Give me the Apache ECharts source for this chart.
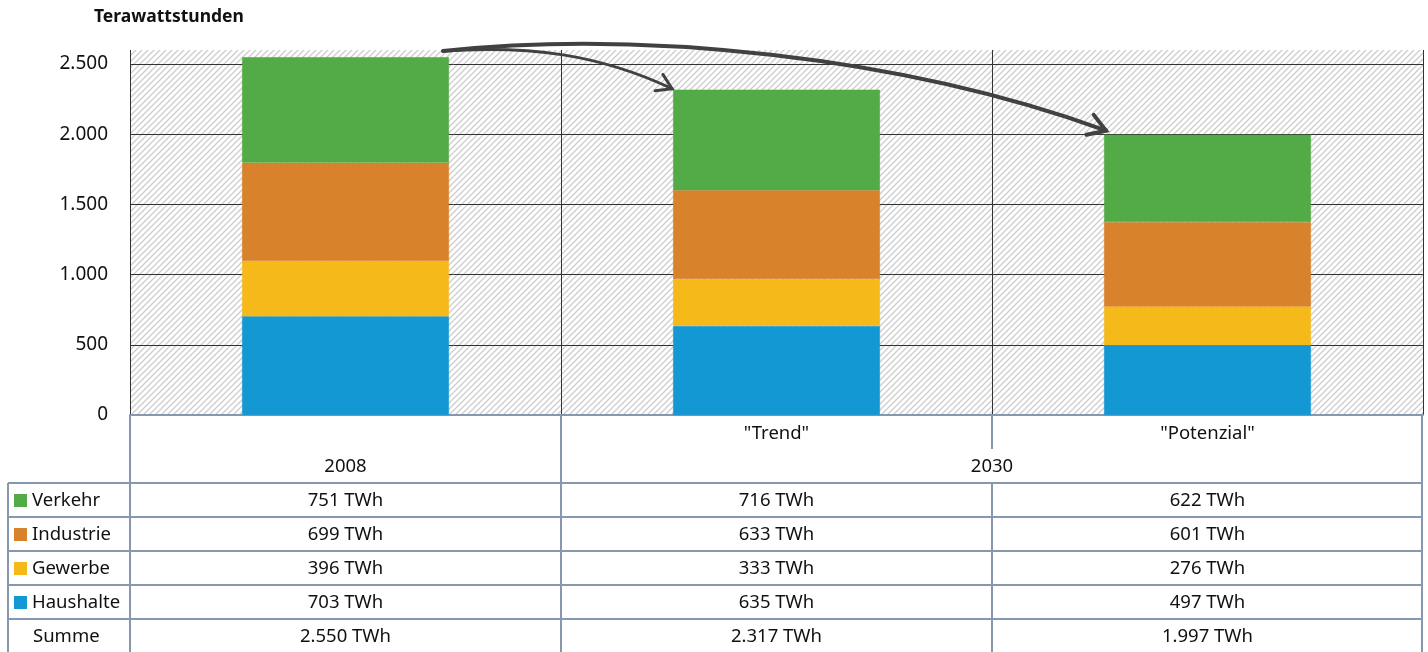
<!DOCTYPE html>
<html><head><meta charset="utf-8">
<script src="https://cdn.jsdelivr.net/npm/echarts@6/dist/echarts.min.js"></script>
<style>html,body{margin:0;padding:0;background:#fff}#c{width:1428px;height:652px}</style>
</head><body><div id="c"></div>
<script>
// ---- data ----
const categories = ['2008', '"Trend"', '"Potenzial"'];
const headerTop = ['', '"Trend"', '"Potenzial"'];
const yearLabels = ['2008', '2030'];
const yearSpans = [1, 2];
const haushalte = [703, 635, 497];
const gewerbe = [396, 333, 276];
const industrie = [699, 633, 601];
const verkehr = [751, 716, 622];
const summe = [2550, 2317, 1997];
const yTicks = [0, 500, 1000, 1500, 2000, 2500];
const yMax = 2600;
const tableRows = ['Verkehr', 'Industrie', 'Gewerbe', 'Haushalte', 'Summe'];

// ---- style ----
const FONT = '"Noto Sans", "Open Sans", sans-serif';
const C = { Verkehr: '#52ab46', Industrie: '#d8822b', Gewerbe: '#f6b91a', Haushalte: '#1398d4' };
const LINE = '#8598ae';
const TXT = '#111111';

function fmt(v) { return String(v).replace(/\B(?=(\d{3})+(?!\d))/g, '.'); }

// hatch pattern
const tile = document.createElement('canvas');
tile.width = 6; tile.height = 6;
const g = tile.getContext('2d');
g.fillStyle = '#ffffff'; g.fillRect(0, 0, 6, 6);
g.strokeStyle = '#cdcdcd'; g.lineWidth = 1.3;
g.beginPath();
g.moveTo(-1, 7); g.lineTo(7, -1);
g.moveTo(-4, 4); g.lineTo(4, -4);
g.moveTo(2, 10); g.lineTo(10, 2);
g.stroke();

const chart = echarts.init(document.getElementById('c'));
const valuesByName = { Verkehr: verkehr, Industrie: industrie, Gewerbe: gewerbe, Haushalte: haushalte, Summe: summe };
const stackOrder = ['Haushalte', 'Gewerbe', 'Industrie', 'Verkehr'];

chart.setOption({
  animation: false,
  textStyle: { fontFamily: FONT },
  title: { text: 'Terawattstunden', left: 89, top: 3,
    textStyle: { fontFamily: FONT, fontSize: 17.5, fontWeight: 'bold', color: TXT } },
  grid: { left: 130, right: 5, top: 50, bottom: 237, show: true, borderWidth: 0,
    backgroundColor: { image: tile, repeat: 'repeat' } },
  xAxis: { type: 'category', data: categories, boundaryGap: true,
    axisLabel: { show: false }, axisTick: { show: false },
    axisLine: { show: true, lineStyle: { color: LINE, width: 2 } },
    splitLine: { show: true, lineStyle: { color: '#333', width: 1 } } },
  yAxis: { type: 'value', min: 0, max: yMax, interval: 500,
    axisLine: { show: false }, axisTick: { show: false },
    axisLabel: { margin: 22, fontSize: 19, color: TXT, fontFamily: FONT, showMaxLabel: false,
      formatter: v => (yTicks.indexOf(v) >= 0 ? fmt(v) : '') },
    splitLine: { show: true, showMinLine: false, showMaxLine: false, lineStyle: { color: '#333', width: 1 } } },
  series: stackOrder.map(n => ({
    name: n, type: 'bar', stack: 'total', barWidth: '48%',
    data: valuesByName[n], itemStyle: { color: C[n], borderColor: C[n], borderWidth: 0.6 }, silent: true
  }))
});

// ---- table + arrows ----
function build() {
  const cx = [0, 1, 2].map(i => chart.convertToPixel({ xAxisIndex: 0 }, i));
  const colW = cx[1] - cx[0];
  const xL = cx[0] - colW / 2;
  const xR = cx[2] + colW / 2;
  const yBase = chart.convertToPixel({ yAxisIndex: 0 }, 0);
  const rh = 34;
  const tblLeft = 8;
  const els = [];
  const line = (x1, y1, x2, y2) => els.push({ type: 'line', z: 10, silent: true,
    shape: { x1, y1, x2, y2 }, style: { stroke: LINE, lineWidth: 2 } });
  const text = (t, x, y, align) => els.push({ type: 'text', z: 11, silent: true, x, y,
    style: { text: t, fill: TXT, font: '18.5px ' + FONT, align: align || 'center', verticalAlign: 'middle' } });

  // header rows
  headerTop.forEach((t, i) => { if (t) text(t, cx[i], yBase + rh * 0.5 + 2); });
  let ci = 0;
  yearLabels.forEach((t, k) => {
    const span = yearSpans[k];
    const xa = xL + ci * colW, xb = xa + span * colW;
    text(t, (xa + xb) / 2, yBase + rh * 1.5 + 1);
    ci += span;
  });
  const tTop = yBase + 2 * rh;
  // horizontal lines
  for (let r = 0; r < tableRows.length; r++) line(tblLeft, tTop + r * rh, xR, tTop + r * rh);
  line(tblLeft, tTop + tableRows.length * rh, xR, tTop + tableRows.length * rh);
  // vertical lines
  line(tblLeft, tTop, tblLeft, 660);
  line(xL, yBase, xL, 660);
  line(xL + colW, yBase, xL + colW, 660);
  line(xL + 2 * colW, yBase, xL + 2 * colW, yBase + rh);
  line(xL + 2 * colW, tTop, xL + 2 * colW, 660);
  line(xR - 1, yBase, xR - 1, 660);
  // rows
  tableRows.forEach((name, r) => {
    const yc = tTop + r * rh + rh / 2 + 1;
    if (C[name]) {
      els.push({ type: 'rect', z: 11, silent: true, shape: { x: 14, y: yc - 7, width: 13, height: 13 }, style: { fill: C[name] } });
      text(name, 32, yc, 'left');
    } else {
      text(name, 33, yc, 'left');
    }
    valuesByName[name].forEach((v, i) => text(fmt(v) + ' TWh', cx[i], yc));
  });

  // arrows
  const bw = colW * 0.48;
  const top = i => chart.convertToPixel({ yAxisIndex: 0 }, summe[i]);
  const S = [cx[0] + bw / 2 - 6, top(0) - 6];
  const E1 = [cx[1] - bw / 2 - 1, top(1) - 1];
  const E2 = [cx[2] - bw / 2 + 2, top(2) - 4];
  const ARW = '#414141';
  function arrow(E, c1, c2, w, L) {
    els.push({ type: 'bezierCurve', z: 12, silent: true,
      shape: { x1: S[0], y1: S[1], x2: E[0], y2: E[1], cpx1: c1[0], cpy1: c1[1], cpx2: c2[0], cpy2: c2[1] },
      style: { stroke: ARW, lineWidth: w, fill: null, lineCap: 'round' } });
    let dx = E[0] - c2[0], dy = E[1] - c2[1];
    const len = Math.hypot(dx, dy); dx /= len; dy /= len;
    const a = 32 * Math.PI / 180;
    const leg = s => [E[0] - L * (dx * Math.cos(a) - s * dy * Math.sin(a)), E[1] - L * (dy * Math.cos(a) + s * dx * Math.sin(a))];
    const p1 = leg(1), p2 = leg(-1);
    els.push({ type: 'polyline', z: 12, silent: true, shape: { points: [p1, E, p2] },
      style: { stroke: ARW, lineWidth: w, fill: null, lineJoin: 'miter', lineCap: 'round' } });
  }
  arrow(E2, [S[0] + 197, S[1] - 21], [E2[0] - 206, E2[1] - 75], 4, 20);
  arrow(E1, [S[0] + 87, S[1] - 6], [E1[0] - 72, E1[1] - 34], 3, 17);

  chart.setOption({ graphic: { elements: els } });
}
build();
</script>
</body></html>
